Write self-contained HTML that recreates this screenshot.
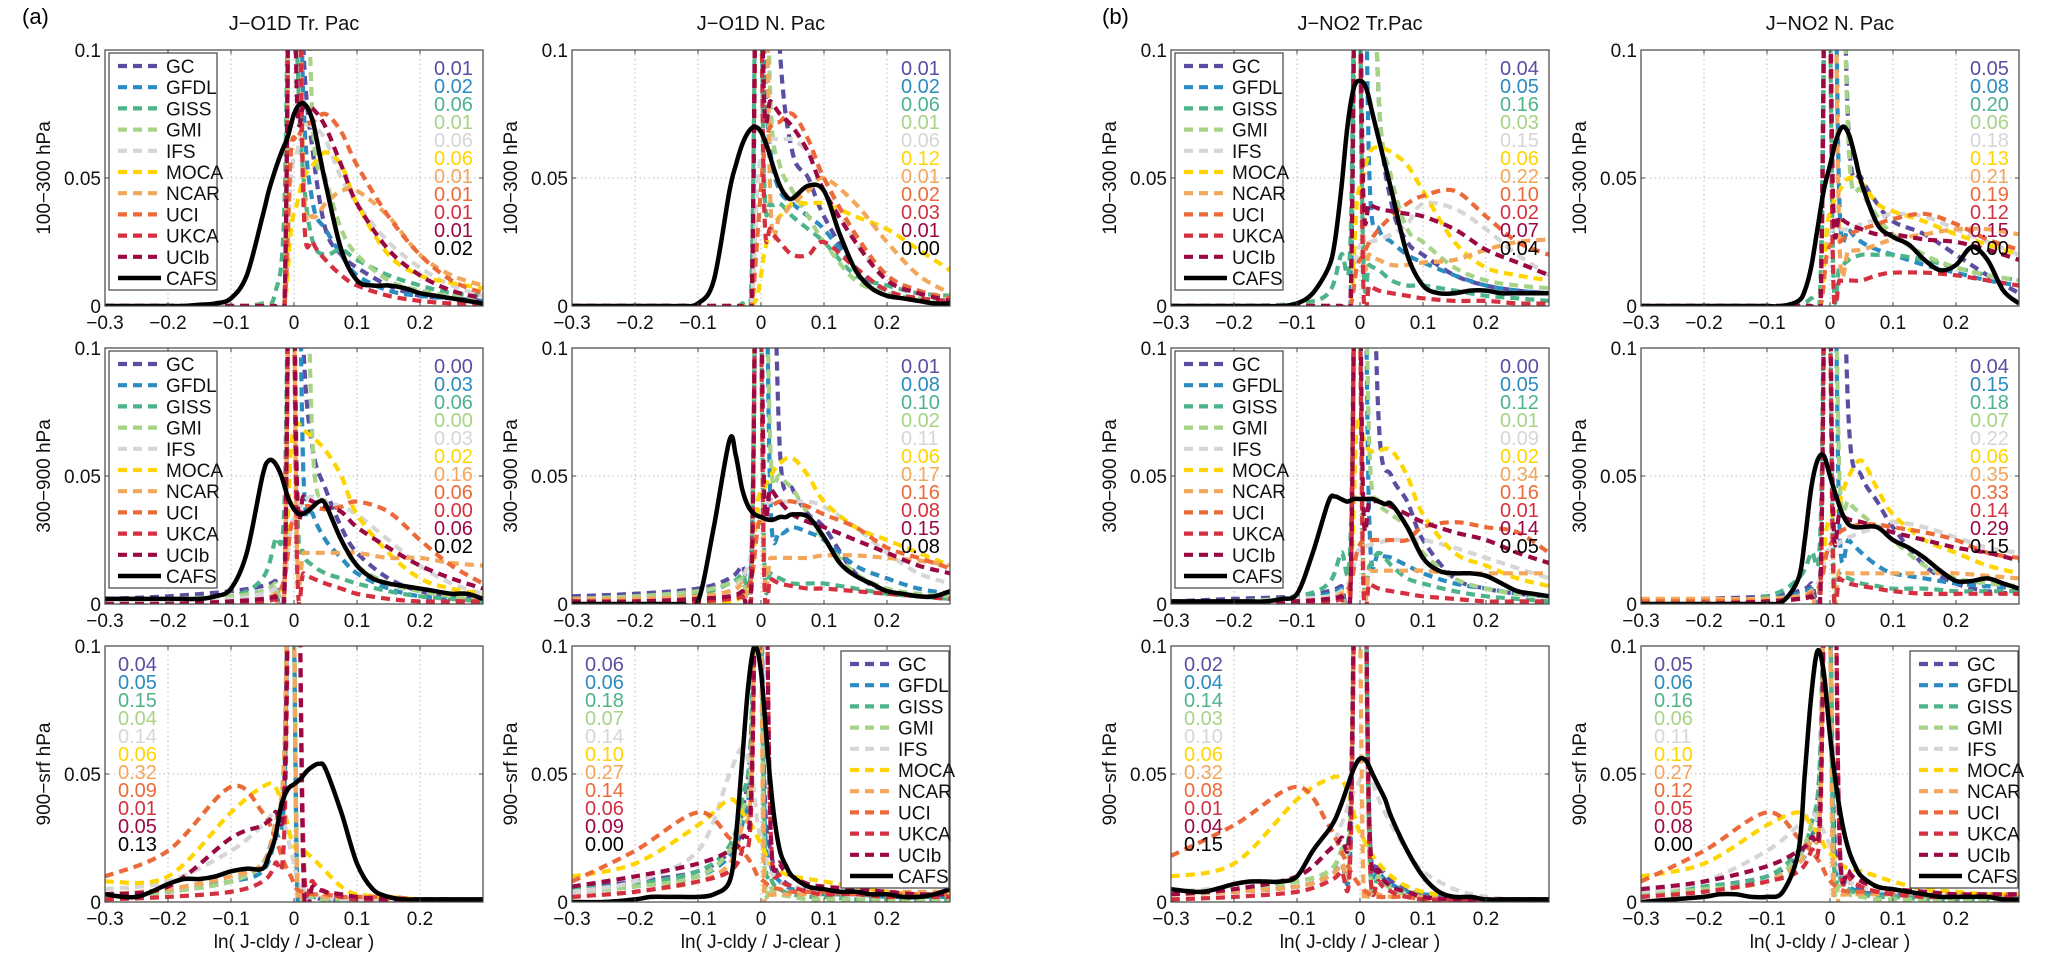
<!DOCTYPE html>
<html><head><meta charset="utf-8">
<style>
html,body{margin:0;padding:0;background:#fff;}
svg{display:block;font-family:"Liberation Sans",sans-serif;}
</style></head>
<body>
<svg id="fig" width="2067" height="953" viewBox="0 0 2067 953" xmlns="http://www.w3.org/2000/svg">
<text x="22" y="24" font-size="22">(a)</text>
<text x="1102" y="24" font-size="22">(b)</text>
</svg>
<script>
const modelNames = ["GC","GFDL","GISS","GMI","IFS","MOCA","NCAR","UCI","UKCA","UCIb"];
const modelColors = ["#5b4ea2","#2a8cc0","#4db48a","#a7d387","#d6d6d6","#ffd500","#f3a75b","#ec6a3a","#d5303f","#9b0844"];
const xModel = [-0.3,-0.2,-0.1,-0.05,-0.03,-0.015,-0.005,0.005,0.015,0.03,0.05,0.075,0.1,0.15,0.2,0.25,0.3];
const xCafs = [-0.3,-0.25,-0.2,-0.175,-0.15,-0.125,-0.1,-0.075,-0.05,-0.04,-0.03,-0.02,-0.01,0,0.01,0.02,0.03,0.04,0.05,0.075,0.1,0.125,0.15,0.175,0.2,0.225,0.25,0.275,0.3];
const xTicks = [-0.3,-0.2,-0.1,0,0.1,0.2];
const xTickLabels = ["\u22120.3","\u22120.2","\u22120.1","0","0.1","0.2"];
const yTicks = [0,0.05,0.1];
const yTickLabels = ["0","0.05","0.1"];

const cafsA1 = [0,0,0,0,0.0005,0.001,0.003,0.012,0.035,0.045,0.053,0.06,0.066,0.075,0.079,0.078,0.072,0.06,0.048,0.022,0.01,0.008,0.008,0.007,0.005,0.004,0.003,0.002,0.001];
const cafsA2 = [0,0,0,0,0,0,0.001,0.01,0.045,0.055,0.063,0.068,0.07,0.068,0.062,0.054,0.047,0.043,0.042,0.047,0.045,0.028,0.014,0.007,0.004,0.003,0.002,0.001,0.001];
const cafsA3 = [0.002,0.002,0.002,0.002,0.002,0.003,0.006,0.02,0.05,0.056,0.055,0.05,0.042,0.037,0.035,0.036,0.038,0.04,0.039,0.025,0.015,0.01,0.008,0.007,0.006,0.005,0.004,0.004,0.002];
const cafsA4 = [0,0,0,0,0,0,0.001,0.03,0.064,0.058,0.045,0.038,0.035,0.034,0.033,0.033,0.034,0.034,0.035,0.034,0.026,0.016,0.011,0.008,0.005,0.004,0.003,0.003,0.005];
const cafsA5 = [0.003,0.002,0.007,0.009,0.009,0.01,0.012,0.013,0.013,0.018,0.025,0.038,0.044,0.046,0.048,0.051,0.053,0.054,0.052,0.035,0.015,0.005,0.002,0.001,0.001,0.001,0.001,0.001,0.001];
const cafsA6 = [0,0,0.001,0.002,0.002,0.002,0.002,0.003,0.008,0.025,0.055,0.085,0.1,0.09,0.06,0.035,0.02,0.014,0.01,0.006,0.005,0.004,0.004,0.003,0.003,0.002,0.002,0.003,0.005];
const cafsB1 = [0,0,0,0,0,0,0.001,0.005,0.015,0.025,0.045,0.07,0.085,0.088,0.085,0.075,0.065,0.055,0.045,0.02,0.008,0.005,0.005,0.006,0.006,0.005,0.005,0.005,0.005];
const cafsB2 = [0,0,0,0,0,0,0,0,0.002,0.006,0.015,0.03,0.045,0.055,0.065,0.07,0.067,0.058,0.048,0.032,0.027,0.024,0.018,0.014,0.016,0.023,0.018,0.006,0.001];
const cafsB3 = [0.001,0.001,0.001,0.001,0.001,0.002,0.004,0.02,0.04,0.042,0.041,0.04,0.041,0.041,0.041,0.041,0.04,0.039,0.039,0.03,0.018,0.013,0.012,0.012,0.011,0.008,0.005,0.004,0.003];
const cafsB4 = [0,0,0,0,0,0,0,0.001,0.01,0.025,0.045,0.056,0.058,0.05,0.042,0.035,0.031,0.03,0.03,0.03,0.025,0.022,0.018,0.013,0.009,0.009,0.01,0.008,0.006];
const cafsB5 = [0.005,0.004,0.007,0.008,0.008,0.008,0.01,0.02,0.028,0.032,0.038,0.045,0.052,0.056,0.055,0.05,0.045,0.04,0.033,0.02,0.01,0.004,0.002,0.002,0.001,0.001,0.001,0.001,0.001];
const cafsB6 = [0,0.001,0.002,0.003,0.003,0.002,0.002,0.004,0.02,0.05,0.08,0.098,0.09,0.065,0.045,0.03,0.02,0.014,0.01,0.006,0.005,0.004,0.003,0.002,0.002,0.002,0.002,0.001,0.001];

const modelsA1 = [
[0,0,0,0,0,0,0.2,0.2,0.1,0.06,0.03,0.02,0.015,0.008,0.004,0.003,0.002],
[0,0,0,0,0,0,0.2,0.2,0.08,0.04,0.03,0.02,0.012,0.006,0.004,0.003,0.002],
[0,0,0,0.001,0.005,0.04,0.2,0.1,0.05,0.025,0.02,0.022,0.018,0.012,0.008,0.005,0.004],
[0,0,0,0,0,0.002,0.2,0.2,0.2,0.07,0.05,0.03,0.02,0.01,0.006,0.004,0.003],
[0,0,0,0,0,0,0.05,0.06,0.07,0.07,0.065,0.05,0.04,0.025,0.015,0.008,0.004],
[0,0,0,0,0,0,0.03,0.04,0.05,0.055,0.06,0.055,0.04,0.02,0.012,0.009,0.007],
[0,0,0,0,0,0,0.2,0.2,0.05,0.035,0.04,0.045,0.045,0.035,0.02,0.012,0.008],
[0,0,0,0,0,0,0.06,0.065,0.07,0.072,0.075,0.068,0.055,0.035,0.02,0.01,0.005],
[0,0,0,0,0,0.001,0.2,0.2,0.04,0.025,0.018,0.012,0.008,0.004,0.002,0.001,0.001],
[0,0,0,0,0,0,0.2,0.08,0.078,0.077,0.07,0.055,0.04,0.022,0.012,0.006,0.003]];
const modelsA2 = [
[0,0,0,0,0,0,0.2,0.2,0.2,0.1,0.06,0.05,0.035,0.015,0.006,0.003,0.002],
[0,0,0,0,0,0,0.2,0.1,0.06,0.045,0.04,0.035,0.03,0.015,0.006,0.003,0.002],
[0,0,0,0,0.001,0.01,0.2,0.05,0.04,0.04,0.035,0.03,0.025,0.012,0.008,0.005,0.004],
[0,0,0,0,0,0,0.2,0.2,0.08,0.055,0.045,0.035,0.025,0.01,0.005,0.003,0.002],
[0,0,0,0,0,0,0.05,0.06,0.065,0.065,0.065,0.06,0.05,0.025,0.012,0.006,0.003],
[0,0,0,0,0,0,0.005,0.02,0.03,0.035,0.04,0.04,0.04,0.035,0.03,0.022,0.014],
[0,0,0,0,0,0,0.2,0.2,0.04,0.035,0.04,0.045,0.05,0.04,0.025,0.012,0.005],
[0,0,0,0,0,0,0.03,0.06,0.07,0.072,0.075,0.065,0.05,0.028,0.012,0.006,0.003],
[0,0,0,0,0,0,0.2,0.04,0.03,0.025,0.02,0.02,0.025,0.015,0.006,0.003,0.002],
[0,0,0,0,0,0,0.2,0.08,0.08,0.075,0.07,0.06,0.045,0.025,0.01,0.005,0.002]];
const modelsA3 = [
[0.002,0.003,0.005,0.007,0.009,0.012,0.2,0.2,0.1,0.06,0.045,0.03,0.02,0.01,0.005,0.003,0.002],
[0.001,0.002,0.003,0.005,0.006,0.008,0.2,0.2,0.05,0.035,0.025,0.018,0.012,0.006,0.003,0.002,0.001],
[0.001,0.002,0.003,0.01,0.025,0.04,0.2,0.04,0.02,0.015,0.012,0.01,0.008,0.005,0.003,0.002,0.001],
[0.001,0.002,0.003,0.005,0.008,0.012,0.2,0.2,0.2,0.06,0.04,0.025,0.015,0.008,0.005,0.003,0.002],
[0.001,0.001,0.002,0.004,0.006,0.01,0.03,0.035,0.04,0.042,0.04,0.038,0.035,0.025,0.015,0.008,0.004],
[0,0,0,0.001,0.003,0.01,0.06,0.07,0.068,0.065,0.06,0.05,0.035,0.02,0.01,0.006,0.004],
[0,0,0.001,0.002,0.004,0.008,0.2,0.02,0.02,0.02,0.02,0.02,0.02,0.018,0.018,0.016,0.015],
[0,0,0,0.001,0.003,0.01,0.03,0.035,0.038,0.038,0.037,0.038,0.04,0.036,0.025,0.015,0.008],
[0,0,0,0.001,0.002,0.005,0.2,0.015,0.012,0.01,0.008,0.006,0.004,0.002,0.001,0.001,0.001],
[0,0,0.001,0.002,0.003,0.006,0.2,0.045,0.042,0.04,0.038,0.036,0.03,0.022,0.015,0.01,0.006]];
const modelsA4 = [
[0.003,0.004,0.006,0.01,0.015,0.02,0.2,0.2,0.2,0.06,0.045,0.035,0.03,0.012,0.005,0.003,0.002],
[0.002,0.003,0.005,0.008,0.01,0.015,0.2,0.2,0.04,0.028,0.03,0.028,0.025,0.015,0.01,0.006,0.004],
[0.001,0.002,0.004,0.008,0.012,0.02,0.2,0.02,0.012,0.01,0.008,0.008,0.008,0.006,0.004,0.003,0.002],
[0.002,0.003,0.005,0.008,0.01,0.015,0.2,0.2,0.06,0.05,0.045,0.035,0.025,0.012,0.006,0.004,0.003],
[0.001,0.002,0.003,0.005,0.01,0.02,0.035,0.038,0.04,0.04,0.04,0.04,0.038,0.03,0.02,0.012,0.008],
[0,0,0,0.001,0.003,0.01,0.04,0.045,0.05,0.055,0.057,0.05,0.04,0.03,0.025,0.02,0.015],
[0.002,0.002,0.003,0.005,0.008,0.015,0.2,0.018,0.018,0.018,0.018,0.018,0.019,0.019,0.018,0.017,0.015],
[0,0,0.001,0.002,0.004,0.01,0.03,0.035,0.038,0.04,0.04,0.038,0.035,0.03,0.022,0.018,0.014],
[0,0,0.001,0.002,0.003,0.006,0.2,0.012,0.01,0.008,0.007,0.006,0.006,0.005,0.004,0.003,0.002],
[0.001,0.001,0.002,0.003,0.005,0.01,0.2,0.045,0.045,0.04,0.035,0.032,0.03,0.025,0.02,0.015,0.012]];
const modelsA5 = [
[0.002,0.004,0.008,0.015,0.03,0.05,0.2,0.01,0.004,0.002,0.001,0.001,0.001,0,0,0,0],
[0.002,0.004,0.008,0.012,0.025,0.045,0.2,0.008,0.003,0.002,0.001,0.001,0.001,0,0,0,0],
[0.003,0.005,0.01,0.015,0.03,0.06,0.2,0.01,0.004,0.002,0.001,0.001,0,0,0,0,0],
[0.002,0.004,0.008,0.015,0.03,0.06,0.2,0.01,0.004,0.002,0.001,0.001,0,0,0,0,0],
[0.005,0.008,0.02,0.03,0.035,0.03,0.02,0.01,0.005,0.003,0.002,0.001,0.001,0,0,0,0],
[0.008,0.01,0.035,0.045,0.045,0.035,0.025,0.02,0.02,0.017,0.012,0.006,0.003,0.002,0.001,0.001,0.001],
[0.003,0.005,0.01,0.015,0.03,0.06,0.2,0.01,0.005,0.003,0.002,0.002,0.002,0.001,0.001,0.001,0.001],
[0.01,0.02,0.045,0.035,0.025,0.015,0.01,0.005,0.004,0.003,0.003,0.002,0.002,0.002,0.001,0.001,0.001],
[0.001,0.002,0.004,0.008,0.015,0.03,0.2,0.2,0.02,0.008,0.004,0.002,0.001,0.001,0,0,0],
[0.003,0.006,0.025,0.03,0.035,0.045,0.2,0.2,0.01,0.006,0.004,0.003,0.002,0.001,0.001,0.001,0]];
const modelsA6 = [
[0.005,0.008,0.012,0.02,0.035,0.07,0.2,0.05,0.02,0.01,0.006,0.005,0.004,0.003,0.003,0.002,0.002],
[0.004,0.006,0.01,0.018,0.03,0.06,0.2,0.04,0.015,0.008,0.005,0.004,0.003,0.003,0.002,0.002,0.002],
[0.005,0.007,0.012,0.022,0.04,0.07,0.2,0.03,0.01,0.005,0.003,0.002,0.002,0.001,0.001,0.001,0.001],
[0.004,0.006,0.01,0.02,0.035,0.06,0.2,0.02,0.006,0.003,0.002,0.001,0.001,0.001,0.001,0.001,0.001],
[0.004,0.008,0.02,0.05,0.06,0.05,0.03,0.02,0.012,0.008,0.006,0.005,0.004,0.003,0.003,0.003,0.003],
[0.01,0.015,0.03,0.04,0.035,0.03,0.025,0.02,0.015,0.012,0.01,0.009,0.008,0.006,0.004,0.003,0.003],
[0.002,0.004,0.008,0.015,0.03,0.05,0.2,0.005,0.003,0.003,0.003,0.003,0.003,0.004,0.004,0.004,0.004],
[0.008,0.02,0.035,0.025,0.02,0.015,0.01,0.008,0.006,0.005,0.004,0.004,0.004,0.003,0.003,0.003,0.003],
[0.002,0.004,0.008,0.012,0.02,0.04,0.2,0.2,0.03,0.01,0.006,0.004,0.003,0.003,0.002,0.002,0.002],
[0.006,0.01,0.015,0.02,0.025,0.045,0.2,0.2,0.03,0.015,0.01,0.007,0.006,0.005,0.004,0.003,0.003]];
const modelsB1 = [
[0,0,0,0,0,0,0.2,0.2,0.2,0.08,0.04,0.025,0.02,0.012,0.008,0.006,0.005],
[0,0,0,0,0,0.001,0.2,0.2,0.05,0.03,0.025,0.02,0.017,0.012,0.008,0.006,0.005],
[0,0,0.001,0.005,0.02,0.026,0.2,0.02,0.016,0.014,0.01,0.008,0.008,0.006,0.004,0.003,0.002],
[0,0,0,0,0,0,0.2,0.2,0.2,0.08,0.05,0.03,0.025,0.015,0.01,0.008,0.007],
[0,0,0,0,0,0,0.02,0.025,0.025,0.026,0.028,0.032,0.04,0.038,0.03,0.02,0.012],
[0,0,0,0,0,0,0.04,0.05,0.06,0.062,0.06,0.055,0.045,0.025,0.015,0.012,0.01],
[0,0,0,0,0,0,0.2,0.03,0.02,0.018,0.016,0.016,0.017,0.018,0.022,0.025,0.026],
[0,0,0,0,0,0,0.015,0.02,0.025,0.03,0.035,0.04,0.043,0.045,0.035,0.025,0.02],
[0,0,0,0,0,0,0.2,0.01,0.008,0.006,0.005,0.004,0.003,0.002,0.002,0.001,0.001],
[0,0,0,0,0,0,0.2,0.045,0.04,0.038,0.037,0.036,0.035,0.03,0.022,0.017,0.012]];
const modelsB2 = [
[0,0,0,0,0,0,0.2,0.2,0.2,0.065,0.05,0.04,0.033,0.028,0.02,0.012,0.005],
[0,0,0,0,0,0.001,0.2,0.2,0.04,0.03,0.025,0.022,0.02,0.016,0.013,0.01,0.008],
[0,0,0,0.001,0.003,0.01,0.2,0.015,0.015,0.018,0.02,0.02,0.02,0.018,0.015,0.012,0.01],
[0,0,0,0,0,0,0.2,0.2,0.2,0.06,0.045,0.035,0.028,0.02,0.015,0.012,0.01],
[0,0,0,0,0,0,0.025,0.03,0.03,0.03,0.032,0.034,0.036,0.035,0.03,0.025,0.02],
[0,0,0,0,0,0,0.03,0.04,0.045,0.05,0.048,0.04,0.037,0.033,0.028,0.024,0.02],
[0,0,0,0,0,0,0.2,0.2,0.025,0.022,0.022,0.024,0.026,0.028,0.03,0.03,0.028],
[0,0,0,0,0,0,0.02,0.025,0.025,0.028,0.03,0.032,0.034,0.036,0.032,0.026,0.022],
[0,0,0,0,0,0,0.2,0.012,0.01,0.01,0.01,0.012,0.013,0.013,0.012,0.01,0.008],
[0,0,0,0,0,0,0.2,0.04,0.035,0.032,0.03,0.028,0.028,0.026,0.025,0.022,0.018]];
const modelsB3 = [
[0.001,0.002,0.003,0.005,0.007,0.01,0.2,0.2,0.2,0.07,0.05,0.04,0.025,0.01,0.006,0.004,0.003],
[0.001,0.001,0.002,0.004,0.006,0.008,0.2,0.2,0.03,0.02,0.018,0.015,0.012,0.008,0.006,0.004,0.003],
[0.001,0.001,0.003,0.008,0.02,0.025,0.2,0.015,0.015,0.02,0.015,0.01,0.008,0.005,0.003,0.002,0.001],
[0.001,0.001,0.002,0.003,0.005,0.008,0.2,0.2,0.06,0.04,0.035,0.03,0.02,0.01,0.006,0.004,0.003],
[0.001,0.001,0.002,0.003,0.005,0.01,0.02,0.022,0.023,0.024,0.025,0.025,0.025,0.022,0.018,0.014,0.01],
[0,0,0.001,0.002,0.004,0.01,0.07,0.065,0.06,0.06,0.06,0.05,0.035,0.02,0.015,0.01,0.007],
[0,0.001,0.001,0.002,0.004,0.008,0.2,0.015,0.013,0.013,0.013,0.013,0.013,0.012,0.012,0.012,0.012],
[0,0,0.001,0.002,0.003,0.008,0.02,0.025,0.025,0.025,0.025,0.025,0.03,0.032,0.03,0.028,0.02],
[0,0,0.001,0.001,0.002,0.004,0.2,0.01,0.008,0.006,0.005,0.004,0.003,0.002,0.001,0.001,0.001],
[0,0,0.001,0.002,0.003,0.006,0.2,0.04,0.04,0.04,0.038,0.035,0.032,0.028,0.025,0.02,0.016]];
const modelsB4 = [
[0.001,0.002,0.003,0.005,0.008,0.015,0.2,0.2,0.2,0.07,0.05,0.04,0.03,0.015,0.008,0.005,0.004],
[0.001,0.001,0.002,0.004,0.006,0.01,0.2,0.2,0.03,0.025,0.02,0.015,0.012,0.01,0.008,0.007,0.006],
[0.001,0.001,0.003,0.01,0.02,0.03,0.2,0.02,0.012,0.01,0.008,0.007,0.006,0.006,0.005,0.005,0.005],
[0.001,0.001,0.002,0.003,0.005,0.01,0.2,0.2,0.05,0.04,0.035,0.03,0.025,0.015,0.01,0.008,0.007],
[0.001,0.001,0.002,0.003,0.005,0.01,0.02,0.022,0.024,0.026,0.028,0.03,0.032,0.03,0.026,0.022,0.02],
[0,0,0.001,0.002,0.003,0.008,0.03,0.035,0.04,0.05,0.056,0.045,0.035,0.025,0.02,0.015,0.012],
[0.002,0.002,0.002,0.003,0.005,0.01,0.2,0.015,0.013,0.012,0.012,0.012,0.012,0.012,0.012,0.011,0.01],
[0.001,0.001,0.001,0.002,0.004,0.008,0.02,0.025,0.028,0.03,0.031,0.031,0.03,0.028,0.025,0.02,0.018],
[0,0,0.001,0.002,0.003,0.005,0.2,0.012,0.01,0.008,0.007,0.006,0.005,0.004,0.004,0.004,0.004],
[0,0,0.001,0.002,0.003,0.006,0.2,0.035,0.035,0.033,0.032,0.03,0.028,0.025,0.022,0.02,0.017]];
const modelsB5 = [
[0.003,0.004,0.006,0.01,0.015,0.025,0.2,0.2,0.03,0.015,0.008,0.005,0.003,0.002,0.001,0.001,0.001],
[0.003,0.004,0.006,0.01,0.015,0.022,0.2,0.2,0.025,0.012,0.007,0.004,0.003,0.002,0.001,0.001,0.001],
[0.003,0.005,0.008,0.012,0.02,0.04,0.2,0.2,0.02,0.01,0.006,0.004,0.002,0.001,0.001,0.001,0.001],
[0.003,0.005,0.008,0.012,0.02,0.035,0.2,0.2,0.02,0.01,0.005,0.003,0.002,0.001,0.001,0.001,0.001],
[0.004,0.006,0.01,0.02,0.03,0.04,0.045,0.05,0.05,0.04,0.03,0.02,0.012,0.005,0.002,0.001,0.001],
[0.01,0.015,0.04,0.048,0.048,0.04,0.03,0.025,0.02,0.015,0.01,0.006,0.004,0.002,0.001,0.001,0.001],
[0.003,0.004,0.006,0.01,0.015,0.025,0.2,0.01,0.005,0.003,0.002,0.002,0.002,0.001,0.001,0.001,0.001],
[0.018,0.03,0.045,0.03,0.02,0.012,0.008,0.005,0.003,0.002,0.002,0.002,0.001,0.001,0.001,0.001,0.001],
[0.001,0.002,0.004,0.008,0.012,0.02,0.2,0.2,0.02,0.008,0.004,0.002,0.001,0.001,0.001,0,0],
[0.003,0.005,0.01,0.02,0.025,0.035,0.2,0.2,0.03,0.012,0.006,0.004,0.002,0.001,0.001,0.001,0.001]];
const modelsB6 = [
[0.004,0.006,0.01,0.018,0.03,0.06,0.2,0.04,0.015,0.008,0.005,0.004,0.003,0.002,0.002,0.002,0.002],
[0.003,0.005,0.008,0.015,0.025,0.05,0.2,0.03,0.012,0.006,0.004,0.003,0.003,0.002,0.002,0.002,0.002],
[0.004,0.006,0.01,0.02,0.03,0.06,0.2,0.025,0.01,0.005,0.003,0.002,0.002,0.001,0.001,0.001,0.001],
[0.003,0.005,0.008,0.018,0.03,0.05,0.2,0.02,0.006,0.003,0.002,0.001,0.001,0.001,0.001,0.001,0.001],
[0.004,0.008,0.02,0.03,0.035,0.03,0.025,0.018,0.012,0.008,0.006,0.005,0.004,0.003,0.003,0.003,0.003],
[0.01,0.015,0.03,0.035,0.03,0.025,0.02,0.018,0.015,0.013,0.012,0.01,0.008,0.005,0.004,0.003,0.003],
[0.002,0.004,0.008,0.015,0.025,0.04,0.2,0.005,0.003,0.003,0.003,0.003,0.003,0.003,0.003,0.003,0.003],
[0.008,0.02,0.035,0.025,0.02,0.015,0.01,0.007,0.005,0.004,0.004,0.004,0.004,0.003,0.003,0.003,0.003],
[0.002,0.004,0.008,0.012,0.02,0.035,0.2,0.2,0.025,0.01,0.006,0.004,0.003,0.002,0.002,0.002,0.002],
[0.005,0.008,0.014,0.02,0.025,0.04,0.2,0.2,0.025,0.012,0.008,0.006,0.005,0.004,0.003,0.003,0.003]];

const statsA1 = ["0.01","0.02","0.06","0.01","0.06","0.06","0.01","0.01","0.01","0.01","0.02"];
const statsA2 = ["0.01","0.02","0.06","0.01","0.06","0.12","0.01","0.02","0.03","0.01","0.00"];
const statsA3 = ["0.00","0.03","0.06","0.00","0.03","0.02","0.16","0.06","0.00","0.06","0.02"];
const statsA4 = ["0.01","0.08","0.10","0.02","0.11","0.06","0.17","0.16","0.08","0.15","0.08"];
const statsA5 = ["0.04","0.05","0.15","0.04","0.14","0.06","0.32","0.09","0.01","0.05","0.13"];
const statsA6 = ["0.06","0.06","0.18","0.07","0.14","0.10","0.27","0.14","0.06","0.09","0.00"];
const statsB1 = ["0.04","0.05","0.16","0.03","0.15","0.06","0.22","0.10","0.02","0.07","0.04"];
const statsB2 = ["0.05","0.08","0.20","0.06","0.18","0.13","0.21","0.19","0.12","0.15","0.00"];
const statsB3 = ["0.00","0.05","0.12","0.01","0.09","0.02","0.34","0.16","0.01","0.14","0.05"];
const statsB4 = ["0.04","0.15","0.18","0.07","0.22","0.06","0.35","0.33","0.14","0.29","0.15"];
const statsB5 = ["0.02","0.04","0.14","0.03","0.10","0.06","0.32","0.08","0.01","0.04","0.15"];
const statsB6 = ["0.05","0.06","0.16","0.06","0.11","0.10","0.27","0.12","0.05","0.08","0.00"];

const NS = "http://www.w3.org/2000/svg";
const svg = document.getElementById("fig");
const colLeft = [105,572,1171,1641];
const rowTop = [50,348,646];
const PW = 378, PH = 256;
const XMIN = -0.3, XMAX = 0.3, YMIN = 0, YMAX = 0.1;

function mk(tag, attrs, parent){
  const e = document.createElementNS(NS, tag);
  for (const k in attrs) e.setAttribute(k, attrs[k]);
  (parent||svg).appendChild(e);
  return e;
}
function smoothPath(pts){
  let d = "M" + pts[0][0].toFixed(1) + "," + pts[0][1].toFixed(1);
  for (let i=0;i<pts.length-1;i++){
    const p0 = pts[i-1]||pts[i], p1 = pts[i], p2 = pts[i+1], p3 = pts[i+2]||p2;
    const c1x = p1[0]+(p2[0]-p0[0])/6, c1y = p1[1]+(p2[1]-p0[1])/6;
    const c2x = p2[0]-(p3[0]-p1[0])/6, c2y = p2[1]-(p3[1]-p1[1])/6;
    d += " C"+c1x.toFixed(1)+","+c1y.toFixed(1)+" "+c2x.toFixed(1)+","+c2y.toFixed(1)+" "+p2[0].toFixed(1)+","+p2[1].toFixed(1);
  }
  return d;
}

const panels = [
  {id:"a1",c:0,r:0,title:"J\u2212O1D Tr. Pac",yl:"100\u2212300 hPa",cafs:cafsA1,models:modelsA1,stats:statsA1,legend:"left",statPos:"right"},
  {id:"a2",c:1,r:0,title:"J\u2212O1D N. Pac",yl:"100\u2212300 hPa",cafs:cafsA2,models:modelsA2,stats:statsA2,legend:null,statPos:"right"},
  {id:"a3",c:0,r:1,yl:"300\u2212900 hPa",cafs:cafsA3,models:modelsA3,stats:statsA3,legend:"left",statPos:"right"},
  {id:"a4",c:1,r:1,yl:"300\u2212900 hPa",cafs:cafsA4,models:modelsA4,stats:statsA4,legend:null,statPos:"right"},
  {id:"a5",c:0,r:2,yl:"900\u2212srf hPa",cafs:cafsA5,models:modelsA5,stats:statsA5,legend:null,statPos:"left",xl:true},
  {id:"a6",c:1,r:2,yl:"900\u2212srf hPa",cafs:cafsA6,models:modelsA6,stats:statsA6,legend:"right",statPos:"left",xl:true},
  {id:"b1",c:2,r:0,title:"J\u2212NO2 Tr.Pac",yl:"100\u2212300 hPa",cafs:cafsB1,models:modelsB1,stats:statsB1,legend:"left",statPos:"right"},
  {id:"b2",c:3,r:0,title:"J\u2212NO2 N. Pac",yl:"100\u2212300 hPa",cafs:cafsB2,models:modelsB2,stats:statsB2,legend:null,statPos:"right"},
  {id:"b3",c:2,r:1,yl:"300\u2212900 hPa",cafs:cafsB3,models:modelsB3,stats:statsB3,legend:"left",statPos:"right"},
  {id:"b4",c:3,r:1,yl:"300\u2212900 hPa",cafs:cafsB4,models:modelsB4,stats:statsB4,legend:null,statPos:"right"},
  {id:"b5",c:2,r:2,yl:"900\u2212srf hPa",cafs:cafsB5,models:modelsB5,stats:statsB5,legend:null,statPos:"left",xl:true},
  {id:"b6",c:3,r:2,yl:"900\u2212srf hPa",cafs:cafsB6,models:modelsB6,stats:statsB6,legend:"right",statPos:"left",xl:true}
];

panels.forEach(p=>{
  const L = colLeft[p.c], T = rowTop[p.r], R = L+PW, B = T+PH;
  const sx = v => L + (v-XMIN)/(XMAX-XMIN)*PW;
  const sy = v => B - (v-YMIN)/(YMAX-YMIN)*PH;
  const g = mk("g",{});
  
  
  const cp = mk("clipPath",{id:"clip-"+p.id},g);
  mk("rect",{x:L,y:T,width:PW,height:PH},cp);
  // grid
  xTicks.slice(1).forEach(v=>{
    const l = mk("line",{x1:sx(v),x2:sx(v),y1:T,y2:B,stroke:"#bbb","stroke-width":1,"stroke-dasharray":"1.5 3"},g);
    
    
  });
  const gl = mk("line",{x1:L,x2:R,y1:sy(0.05),y2:sy(0.05),stroke:"#bbb","stroke-width":1,"stroke-dasharray":"1.5 3"},g);
  
  
  // series
  const sg = mk("g",{"clip-path":"url(#clip-"+p.id+")"},g);
  p.models.forEach((vals,i)=>{
    const pts = vals.map((v,j)=>[sx(xModel[j]), sy(v)]);
    const path = mk("path",{d:smoothPath(pts),fill:"none",stroke:modelColors[i],"stroke-width":4.2,"stroke-dasharray":"9 6"},sg);
    
    
  });
  const cpts = p.cafs.map((v,j)=>[sx(xCafs[j]), sy(v)]);
  const cpath = mk("path",{d:smoothPath(cpts),fill:"none",stroke:"#000","stroke-width":4.5,"stroke-linejoin":"round"},sg);
  
  
  // frame
  const fr = mk("rect",{x:L,y:T,width:PW,height:PH,fill:"none",stroke:"#444","stroke-width":1.2},g);
  
  
  // ticks
  xTicks.forEach((v,i)=>{
    mk("line",{x1:sx(v),x2:sx(v),y1:B,y2:B-4,stroke:"#444"},g);
    mk("line",{x1:sx(v),x2:sx(v),y1:T,y2:T+4,stroke:"#444"},g);
    const t = mk("text",{x:sx(v),y:B+23,"font-size":19,"text-anchor":"middle",fill:"#111"},g);
    t.textContent = xTickLabels[i];
    
    
  });
  yTicks.forEach((v,i)=>{
    mk("line",{x1:L,x2:L+4,y1:sy(v),y2:sy(v),stroke:"#444"},g);
    mk("line",{x1:R,x2:R-4,y1:sy(v),y2:sy(v),stroke:"#444"},g);
    const t = mk("text",{x:L-4,y:sy(v)+7,"font-size":19,"text-anchor":"end",fill:"#111"},g);
    t.textContent = yTickLabels[i];
    
    
  });
  // y label
  const yx = L-55, yy = T+PH/2;
  const yt = mk("text",{x:yx,y:yy,"font-size":19,"text-anchor":"middle",transform:"rotate(-90 "+yx+" "+yy+")",fill:"#111"},g);
  yt.textContent = p.yl;
  
  
  if (p.title){
    const tt = mk("text",{x:L+PW/2,y:T-20,"font-size":20,"text-anchor":"middle",fill:"#111"},g);
    tt.textContent = p.title;
    
    
  }
  if (p.xl){
    const xt = mk("text",{x:L+PW/2,y:B+46,"font-size":19,"text-anchor":"middle",fill:"#111"},g);
    xt.textContent = "ln( J-cldy / J-clear )";
    
    
  }
  // stats
  const stx = p.statPos==="right" ? L+329 : L+13;
  p.stats.forEach((s,i)=>{
    const t = mk("text",{x:stx,y:T+25+i*18,"font-size":20,fill:i<10?modelColors[i]:"#000"},g);
    t.textContent = s;
    
    
  });
  // legend
  if (p.legend){
    const lg = mk("g",{},g);
    
    
    const lx = p.legend==="left" ? L+4 : R-109;
    const ly = p.legend==="left" ? T+3 : T+5;
    mk("rect",{x:lx,y:ly,width:108,height:237,fill:"#fff",stroke:"#444","stroke-width":1.2},lg);
    const names = modelNames.concat(["CAFS"]);
    names.forEach((n,i)=>{
      const cy = ly+13+i*21.2;
      const ln = mk("line",{x1:lx+9,x2:lx+52,y1:cy,y2:cy,stroke:i<10?modelColors[i]:"#000","stroke-width":i<10?4.2:4.5,"stroke-dasharray":i<10?"9 6":"none"},lg);
      
      
      const t = mk("text",{x:lx+57,y:cy+7,"font-size":19,fill:"#111"},lg);
      t.textContent = n;
      
      
    });
  }
});
</script>
</body></html>
